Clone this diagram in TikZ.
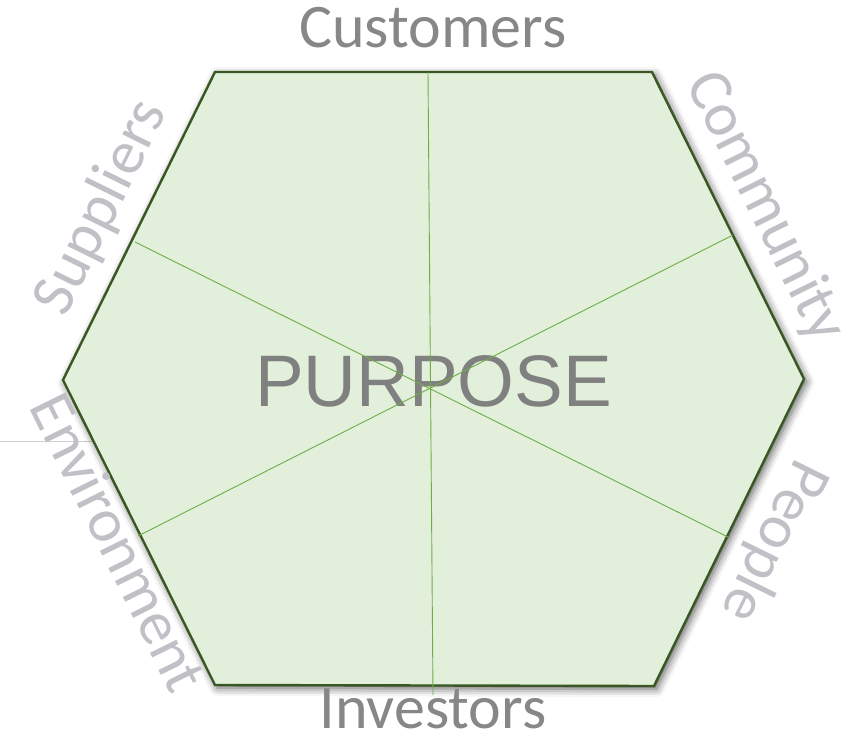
\documentclass[tikz,border=0pt]{standalone}
\usepackage{fontspec}
\setmainfont{Carlito}
\newfontfamily\arialfont{Liberation Sans}
\usepackage{tikz}
\usetikzlibrary{shadows.blur}

\definecolor{hexfill}{RGB}{226,239,218}
\definecolor{hexedge}{RGB}{56,87,35}
\definecolor{spokegreen}{RGB}{112,173,71}
\definecolor{sidegray}{RGB}{192,192,198}
\definecolor{endgray}{RGB}{135,135,138}
\definecolor{purposegray}{RGB}{128,128,128}

\tikzset{
    hexface/.style={fill=hexfill, draw=hexedge, line width=2.4pt, line join=miter,
        blur shadow={shadow xshift=2.5pt, shadow yshift=-3pt, shadow blur radius=8pt, shadow opacity=65}},
    spoke/.style={draw=spokegreen, line width=0.9pt},
    sidelabel/.style={text=sidegray, anchor=base, inner sep=0pt, font=\fontsize{62}{70}\selectfont},
    endlabel/.style={sidelabel, text=endgray},
    centrelabel/.style={text=purposegray, anchor=base, inner sep=0pt, font=\arialfont\fontsize{73}{80}\selectfont}
}

\begin{document}
\begin{tikzpicture}[x=1pt, y=-1pt]
    \useasboundingbox (0,0) rectangle (851,743);

    % hexagon corners
    \coordinate (tl) at (215,72);
    \coordinate (tr) at (652,72);
    \coordinate (rr) at (804,379);
    \coordinate (br) at (654,686);
    \coordinate (bl) at (215,685);
    \coordinate (ll) at (63,380);

    % faint guide on the left
    \coordinate (guideA) at (0,441);
    \coordinate (guideB) at (93,441);
    \draw [black!18, line width=0.6pt] (guideA) -- (guideB);

    \path [hexface] (tl) -- (tr) -- (rr) -- (br) -- (bl) -- (ll) -- cycle;

    \node [centrelabel] (purpose) at (433.5,406) {PURPOSE};

    % spokes
    \coordinate (spokeN) at (428,72);
    \coordinate (spokeS) at (433,695);
    \coordinate (spokeNW) at (135,242);
    \coordinate (spokeSE) at (728,537);
    \coordinate (spokeNE) at (733,235);
    \coordinate (spokeSW) at (138,536);
    \draw [spoke] (spokeN) -- (spokeS);
    \draw [spoke] (spokeNW) -- (spokeSE);
    \draw [spoke] (spokeNE) -- (spokeSW);

    % stakeholders round the edge
    \node [endlabel] (customers) at (433,48) {Customers};
    \node [endlabel] (investors) at (433,728) {Investors};
    \node [sidelabel, rotate=63.7] (suppliers) at (116.6,214.9) {Suppliers};
    \node [sidelabel, rotate=-63.7] (community) at (750.4,214.4) {Community};
    \node [sidelabel, rotate=-63.7] (environment) at (100.5,551.7) {Environment};
    \node [sidelabel, rotate=-116.3] (people) at (758.5,533.7) {People};
\end{tikzpicture}
\end{document}
